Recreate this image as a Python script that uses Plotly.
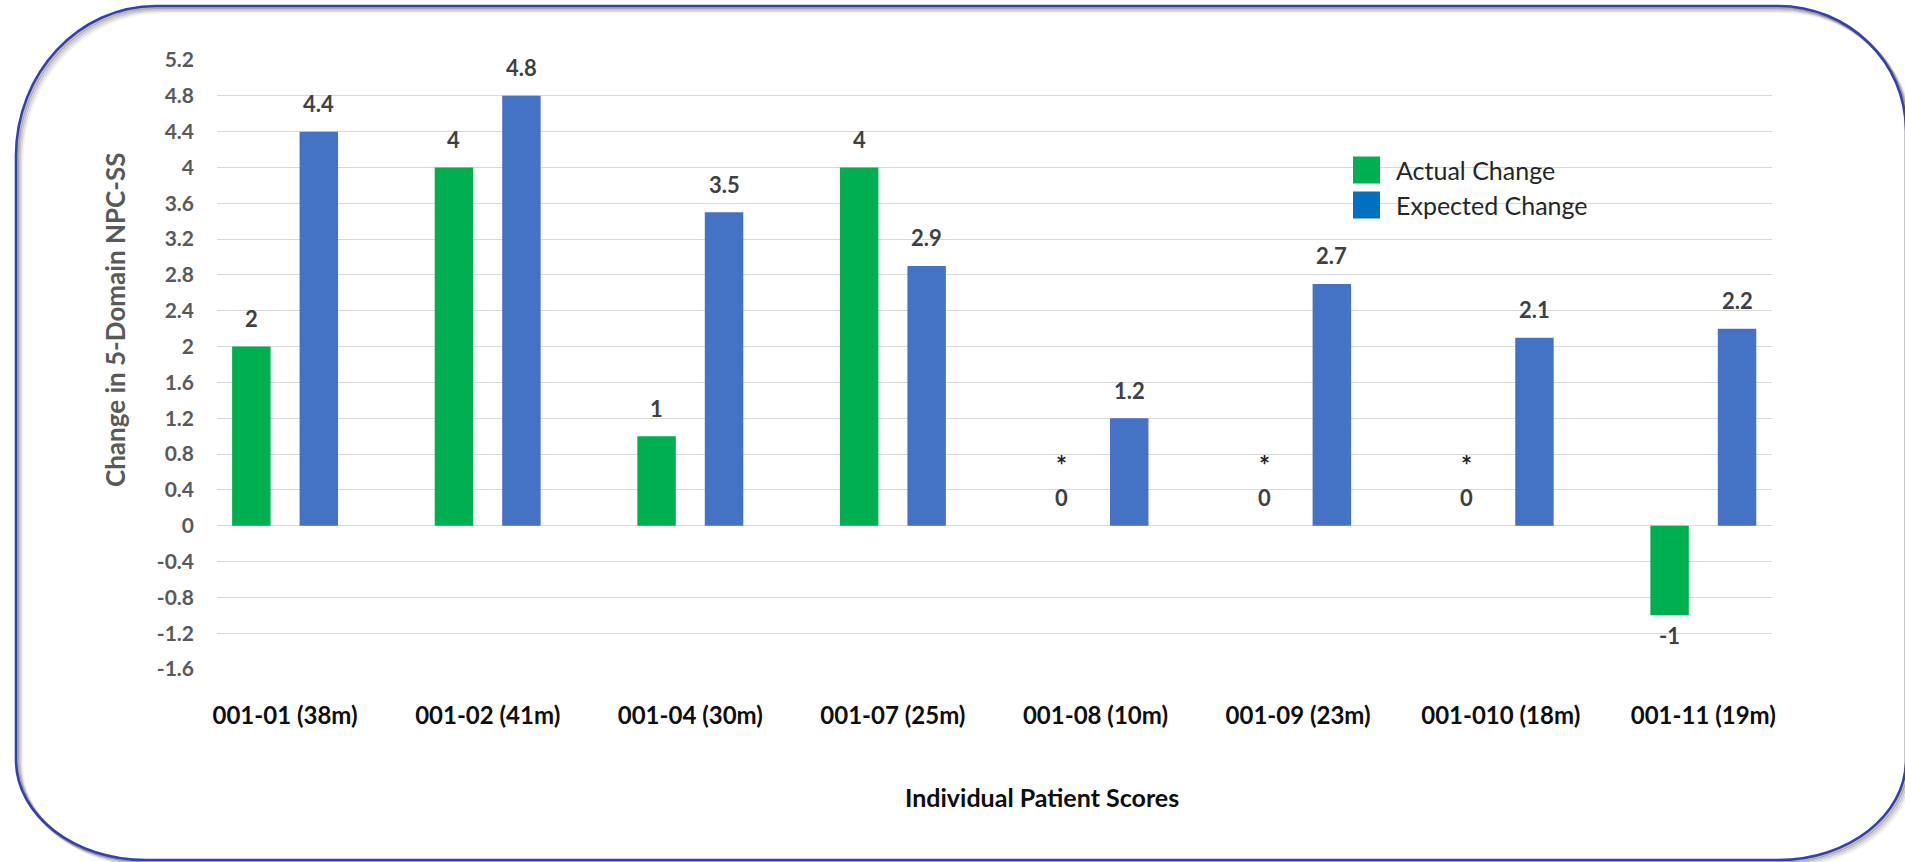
import plotly.graph_objects as go

# ---- data -------------------------------------------------------------
patients = ["001-01 (38m)", "001-02 (41m)", "001-04 (30m)", "001-07 (25m)",
            "001-08 (10m)", "001-09 (23m)", "001-010 (18m)", "001-11 (19m)"]
actual_change = [2, 4, 1, 4, 0, 0, 0, -1]
expected_change = [4.4, 4.8, 3.5, 2.9, 1.2, 2.7, 2.1, 2.2]
actual_notes = ["", "", "", "", "*", "*", "*", ""]

y_tick_values = [-1.6, -1.2, -0.8, -0.4, 0, 0.4, 0.8, 1.2, 1.6, 2, 2.4,
                 2.8, 3.2, 3.6, 4, 4.4, 4.8, 5.2]
y_tick_labels = ["-1.6", "-1.2", "-0.8", "-0.4", "0", "0.4", "0.8", "1.2",
                 "1.6", "2", "2.4", "2.8", "3.2", "3.6", "4", "4.4", "4.8", "5.2"]

series_names = ["Actual Change", "Expected Change"]

# ---- styling / geometry ----------------------------------------------
W, H = 1905, 862
ML, MR, MT, MB = 217, 133, 60, 193
PLOT_W = W - ML - MR
PLOT_H = H - MT - MB
X_RANGE = [-0.336, 7.339]
BARGAP = 0.334
BARGROUPGAP = 0.43

GREEN = "#00B050"
BLUE = "#4472C4"
LEGEND_BLUE = "#0070C0"
FRAME = "#3341B0"
FONT = "Lato"

px_per_cat = PLOT_W / (X_RANGE[1] - X_RANGE[0])
bar_shift = (1 - BARGAP) / 2 * px_per_cat / 2   # centre of each bar from category centre


def fx(x):
    """pixel x -> paper x"""
    return (x - ML) / PLOT_W


def fy(y):
    """pixel y -> paper y"""
    return 1 - (y - MT) / PLOT_H


def rounded_path(x0, y0, x1, y1, rtl, rtr, rbr, rbl, dx=0, dy=0):
    """Rounded rectangle path (pixel input, paper output); each corner is (rx, ry)."""
    k = 0.5523
    x0, x1, y0, y1 = x0 + dx, x1 + dx, y0 + dy, y1 + dy
    P = lambda x, y: f"{fx(x):.5f},{fy(y):.5f}"
    (ax, ay), (bx, by), (cx, cy), (ex, ey) = rtl, rtr, rbr, rbl
    d = [f"M{P(x0 + ax, y0)}",
         f"L{P(x1 - bx, y0)}",
         f"C{P(x1 - bx + k * bx, y0)} {P(x1, y0 + by - k * by)} {P(x1, y0 + by)}",
         f"L{P(x1, y1 - cy)}",
         f"C{P(x1, y1 - cy + k * cy)} {P(x1 - cx + k * cx, y1)} {P(x1 - cx, y1)}",
         f"L{P(x0 + ex, y1)}",
         f"C{P(x0 + ex - k * ex, y1)} {P(x0, y1 - ey + k * ey)} {P(x0, y1 - ey)}",
         f"L{P(x0, y0 + ay)}",
         f"C{P(x0, y0 + ay - k * ay)} {P(x0 + ax - k * ax, y0)} {P(x0 + ax, y0)}",
         "Z"]
    return " ".join(d)


fig = go.Figure()
fig.add_trace(go.Bar(name=series_names[0], x=patients, y=actual_change,
                     marker=dict(color=GREEN, line=dict(width=0))))
fig.add_trace(go.Bar(name=series_names[1], x=patients, y=expected_change,
                     marker=dict(color=BLUE, line=dict(width=0))))

annotations = []
label_font = dict(family=FONT, size=22, color="#404040", weight="bold")
for values, sign in ((actual_change, -1), (expected_change, 1)):
    for cat, v in zip(patients, values):
        annotations.append(dict(
            x=cat, y=v, xref="x", yref="y", text=f"{v:g}", showarrow=False,
            xshift=sign * bar_shift, yshift=28 if v >= 0 else -20,
            font=label_font))
for cat, v, note in zip(patients, actual_change, actual_notes):
    if note:
        annotations.append(dict(
            x=cat, y=v, xref="x", yref="y", text=note, showarrow=False,
            xshift=-bar_shift, yshift=61,
            font=dict(family=FONT, size=26, color="#262626", weight="bold")))

# axis titles
annotations.append(dict(
    x=fx(115), y=fy(320), xref="paper", yref="paper", text="Change in 5-Domain NPC-SS",
    textangle=-90, showarrow=False, xanchor="center", yanchor="middle",
    font=dict(family=FONT, size=26, color="#595959", weight="bold")))
annotations.append(dict(
    x=fx(1042), y=fy(797), xref="paper", yref="paper", text="Individual Patient Scores",
    showarrow=False, xanchor="center", yanchor="middle",
    font=dict(family=FONT, size=25, color="#0D0D0D", weight="bold")))

# legend entries
shapes = []
legend_rows = [(series_names[0], GREEN, 170), (series_names[1], LEGEND_BLUE, 205)]
for name, col, yc in legend_rows:
    shapes.append(dict(type="rect", xref="paper", yref="paper",
                       x0=fx(1353), x1=fx(1380), y0=fy(yc - 13.5), y1=fy(yc + 13.5),
                       fillcolor=col, line=dict(width=0)))
    annotations.append(dict(
        x=fx(1394), y=fy(yc), xref="paper", yref="paper", text=name,
        showarrow=False, xanchor="left", yanchor="middle",
        font=dict(family=FONT, size=25, color="#262626")))

# framed card with soft drop shadow
corners = dict(rtl=(140, 150), rtr=(128, 125), rbr=(128, 100), rbl=(130, 100))
for off, op in ((6, 0.06), (4.5, 0.12), (3, 0.2), (1.5, 0.3)):
    shapes.append(dict(type="path", xref="paper", yref="paper", layer="below",
                       path=rounded_path(16, 6, 1906, 860, dx=off, dy=off, **corners),
                       line=dict(color=f"rgba(60,60,60,{op})", width=3)))
shapes.append(dict(type="path", xref="paper", yref="paper", layer="above",
                   path=rounded_path(16, 6, 1906, 860, **corners),
                   fillcolor="rgba(0,0,0,0)", line=dict(color=FRAME, width=2.6)))

fig.update_layout(
    width=W, height=H,
    margin=dict(l=ML, r=MR, t=MT, b=MB, autoexpand=False),
    paper_bgcolor="white", plot_bgcolor="white",
    barmode="group", bargap=BARGAP, bargroupgap=BARGROUPGAP,
    showlegend=False,
    annotations=annotations, shapes=shapes,
    font=dict(family=FONT),
)
fig.update_xaxes(
    range=X_RANGE, showgrid=False, showline=False, zeroline=False, ticks="",
    ticklabelstandoff=30,
    tickfont=dict(family=FONT, size=24, color="#0D0D0D", weight="bold"),
)
fig.update_yaxes(
    range=[-1.6, 5.2], tickmode="array", tickvals=y_tick_values, ticktext=y_tick_labels,
    showgrid=True, gridcolor="#D9D9D9", gridwidth=1.3, zeroline=False, showline=False,
    ticks="", ticklabelstandoff=22,
    tickfont=dict(family=FONT, size=21, color="#595959", weight="bold"),
)

fig.write_html("out.html")
